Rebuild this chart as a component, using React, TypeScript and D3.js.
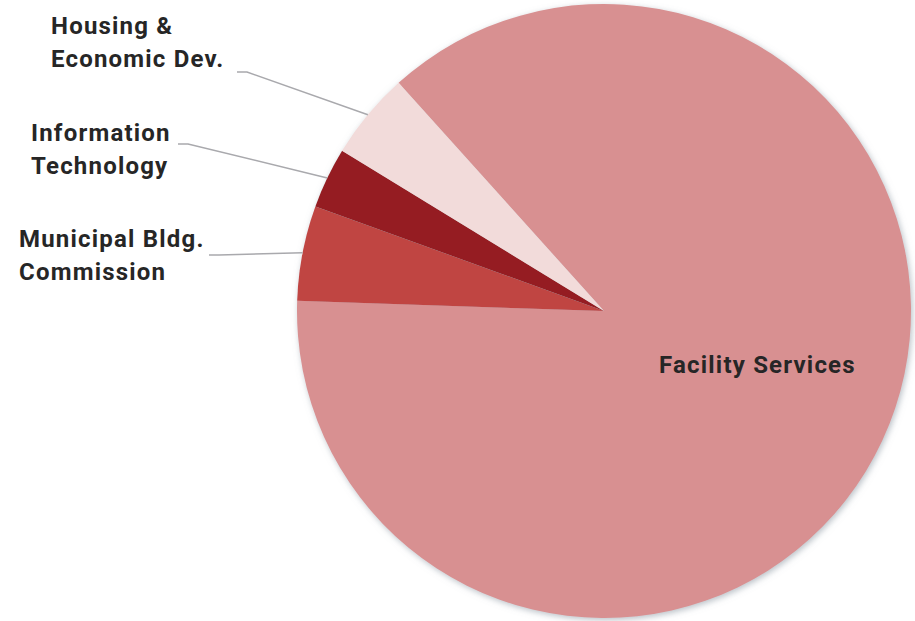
import React from "react";
import * as d3 from "d3";

// Budget share by department
const categories = ["Facility Services", "Municipal Bldg. Commission", "Information Technology", "Housing & Economic Dev."];
const values = [87.2, 5.0, 3.2, 4.6];
const colors = ["#D89091", "#C04543", "#951F21", "#F2DBDA"];

const W = 915;
const H = 621;
const cx = 604;
const cy = 311;
const R = 307;
const rotationDeg = 318;

// Outside labels: text lines, anchor position and leader elbow
const outsideLabels = [
  { idx: 3, lines: ["Housing &", "Economic Dev."], x: 51, y: 34, lx: 237, ly: 72 },
  { idx: 2, lines: ["Information", "Technology"], x: 31, y: 141, lx: 178, ly: 144 },
  { idx: 1, lines: ["Municipal Bldg.", "Commission"], x: 19, y: 247, lx: 209, ly: 255 },
];

const FONT = "Roboto, sans-serif";
const FS = 24;
const LS = 1.2;
const LH = 33;

export default function App() {
  const pie = d3
    .pie<number>()
    .sort(null)
    .startAngle((rotationDeg * Math.PI) / 180)
    .endAngle((rotationDeg * Math.PI) / 180 + 2 * Math.PI);
  const arcs = pie(values);
  const arcGen = d3.arc<d3.PieArcDatum<number>>().innerRadius(0).outerRadius(R);

  const edgePoint = (a: d3.PieArcDatum<number>) => {
    const mid = (a.startAngle + a.endAngle) / 2;
    return [cx + R * Math.sin(mid), cy - R * Math.cos(mid)];
  };

  return (
    <svg width={W} height={H} style={{ position: "absolute", left: 0, top: 0 }}>
      <defs>
        <filter id="pieShadow" x="-10%" y="-10%" width="120%" height="120%">
          <feDropShadow dx="1.5" dy="2" stdDeviation="3" floodColor="#7f8c99" floodOpacity="0.55" />
        </filter>
      </defs>
      <rect width={W} height={H} fill="#ffffff" />
      <g transform={`translate(${cx},${cy})`} filter="url(#pieShadow)">
        {arcs.map((a, i) => (
          <path key={categories[i]} d={arcGen(a) ?? ""} fill={colors[i]} />
        ))}
      </g>
      {outsideLabels.map((l) => {
        const [ex, ey] = edgePoint(arcs[l.idx]);
        return (
          <g key={categories[l.idx]}>
            <polyline
              points={`${l.lx},${l.ly} ${l.lx + 10},${l.ly} ${ex},${ey}`}
              fill="none"
              stroke="#a9a9ad"
              strokeWidth={1.5}
            />
            <text
              x={l.x}
              y={l.y}
              fontFamily={FONT}
              fontWeight={700}
              fontSize={FS}
              letterSpacing={LS}
              fill="#262626"
            >
              {l.lines.map((t, k) => (
                <tspan key={t} x={l.x} y={l.y + k * LH}>
                  {t}
                </tspan>
              ))}
            </text>
          </g>
        );
      })}
      <text
        x={659}
        y={373}
        fontFamily={FONT}
        fontWeight={700}
        fontSize={FS}
        letterSpacing={LS}
        fill="#262626"
      >
        {categories[0]}
      </text>
    </svg>
  );
}
